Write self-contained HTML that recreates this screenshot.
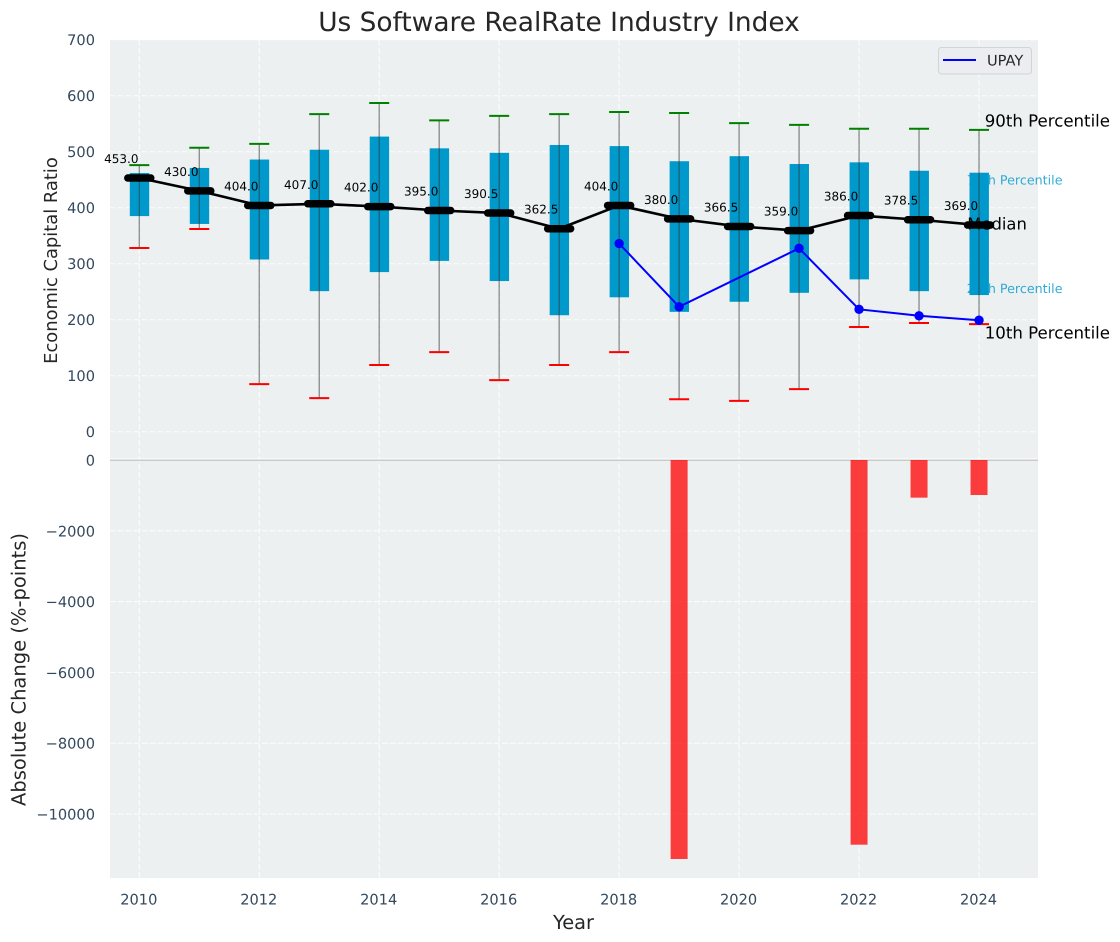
<!DOCTYPE html>
<html lang="en">
<head>
<meta charset="utf-8">
<title>Us Software RealRate Industry Index</title>
<style>
html,body{margin:0;padding:0;background:#fff;}
svg{display:block;font-family:"DejaVu Sans","Liberation Sans",sans-serif;text-rendering:geometricPrecision;}
</style>
</head>
<body>
<svg id="chart" xmlns="http://www.w3.org/2000/svg" width="1120" height="942" viewBox="0 0 1120 942">
  <rect x="0" y="0" width="1120" height="942" fill="#ffffff"/>
  <rect x="110" y="40" width="928" height="420" fill="#ecf0f1"/>
  <rect x="110" y="460" width="928" height="418" fill="#ecf0f1"/>
  <g id="grid"></g>
  <g id="bars"></g>
  <g id="boxes"></g>
  <g id="notes"></g>
  <g id="whiskers"></g>
  <g id="medians"></g>
  <g id="upay"></g>
  <g id="ticks"></g>
  <text x="559" y="31" text-anchor="middle" font-size="26.4" fill="#262626">Us Software RealRate Industry Index</text>
  <text transform="translate(57,260.5) rotate(-90)" text-anchor="middle" font-size="17.9" fill="#262626">Economic Capital Ratio</text>
  <text transform="translate(25.5,669.5) rotate(-90)" text-anchor="middle" font-size="19.5" fill="#262626">Absolute Change (%-points)</text>
  <text x="573.5" y="929" text-anchor="middle" font-size="19.4" fill="#262626">Year</text>
  <g>
    <rect x="938.5" y="47.5" width="93" height="26.5" rx="3" fill="#ebedf1" stroke="#d2d4d6" stroke-width="1"/>
    <line x1="943" y1="60" x2="976" y2="60" stroke="#0000ff" stroke-width="2"/>
    <text x="987" y="65.5" font-size="14.6" fill="#262626">UPAY</text>
  </g>
</svg>
<script>
const years = [2010,2011,2012,2013,2014,2015,2016,2017,2018,2019,2020,2021,2022,2023,2024];
const p90 = [476,507,514,567,587,556,564,567,571,569,551,548,541,541,539];
const p75 = [462,471,486,503.5,527,506,498,512,510,483,492,478,481,466,462.5];
const p25 = [385,371,307.5,251,285,305,269,208,240,214,232,248,272,251,244];
const p10 = [328,362,85,60,119,142,92,119,142,58,55,76,187,194,192];
const medianValues = [453,430,404,407,402,395,390.5,362.5,404,380,366.5,359,386,378.5,369];
const upayYears = [2018,2019,2021,2022,2023,2024];
const upayValues = [336,223,327.5,218.5,207,199];
const changeYears = [2019,2022,2023,2024];
const changeValues = [-11271,-10867,-1064,-989];
const topTicks = [0,100,200,300,400,500,600,700];
const bottomTicks = [0,-2000,-4000,-6000,-8000,-10000];
const xTicks = [2010,2012,2014,2016,2018,2020,2022,2024];

const NS = 'http://www.w3.org/2000/svg';
const xScale = function (year) { return 139.3 + (year - 2010) * 59.98; };
const yTop = function (v) { return 431.7 - v * 0.56; };
const yBottom = function (v) { return 460 - v * 0.0354; };

function make(tag, parent, attrs, text) {
  const el = document.createElementNS(NS, tag);
  Object.keys(attrs).forEach(function (k) { el.setAttribute(k, attrs[k]); });
  if (text !== undefined) el.textContent = text;
  parent.appendChild(el);
  return el;
}
const gGrid = document.getElementById('grid');
const gBars = document.getElementById('bars');
const gBoxes = document.getElementById('boxes');
const gNotes = document.getElementById('notes');
const gWhiskers = document.getElementById('whiskers');
const gMedians = document.getElementById('medians');
const gUpay = document.getElementById('upay');
const gTicks = document.getElementById('ticks');
const gridStyle = {stroke:'#ffffff','stroke-width':1,'stroke-dasharray':'5.5 2.5','stroke-opacity':0.9};

xTicks.forEach(function (yr) {
  const vt = make('line', gGrid, Object.assign({x1:xScale(yr),x2:xScale(yr),y1:40,y2:878}, gridStyle));
  
  
  const lbl = make('text', gTicks, {x:xScale(yr)-0.5,y:904.5,'text-anchor':'middle','font-size':14.6,fill:'#34495e'}, String(yr));
  
  
});
topTicks.forEach(function (v) {
  const hl = make('line', gGrid, Object.assign({x1:110,x2:1038,y1:yTop(v),y2:yTop(v)}, gridStyle));
  
  
  const lbl = make('text', gTicks, {x:95,y:yTop(v)+5.5,'text-anchor':'end','font-size':14.6,fill:'#34495e'}, String(v));
  
  
});
bottomTicks.forEach(function (v) {
  if (v !== 0) {
    const hl = make('line', gGrid, Object.assign({x1:110,x2:1038,y1:yBottom(v),y2:yBottom(v)}, gridStyle));
    
    
  }
  const lbl = make('text', gTicks, {x:95,y:yBottom(v)+5.5,'text-anchor':'end','font-size':14.6,fill:'#34495e'}, String(v).replace('-', '\u2212'));
  
  
});
const sep = make('line', gGrid, {x1:110,x2:1038,y1:459,y2:459,stroke:'#ffffff','stroke-width':1});


const zero = make('line', gGrid, {x1:110,x2:1038,y1:460.2,y2:460.2,stroke:'#bdbdbd','stroke-width':1.2});



changeYears.forEach(function (yr, i) {
  const y0 = yBottom(0), y1 = yBottom(changeValues[i]);
  const bar = make('rect', gBars, {x:xScale(yr)-8.5,y:Math.min(y0,y1),width:17,height:Math.abs(y1-y0),fill:'#ff0000','fill-opacity':0.75});
  
  
});

years.forEach(function (yr, i) {
  const cx = xScale(yr);
  const box = make('rect', gBoxes, {x:cx-9.5,y:yTop(p75[i]),width:19.4,height:yTop(p25[i])-yTop(p75[i]),fill:'#0099cc'});
  
  
  const w = make('line', gWhiskers, {x1:cx,x2:cx,y1:yTop(p90[i]),y2:yTop(p10[i]),stroke:'#333333','stroke-opacity':0.55,'stroke-width':1.3});
  
  
  const capHigh = make('line', gWhiskers, {x1:cx-10,x2:cx+10,y1:yTop(p90[i]),y2:yTop(p90[i]),stroke:'#008000','stroke-width':2});
  
  
  const capLow = make('line', gWhiskers, {x1:cx-10,x2:cx+10,y1:yTop(p10[i]),y2:yTop(p10[i]),stroke:'#ff0000','stroke-width':2});
  
  
});

const last = years.length - 1;
const lastX = xScale(years[last]);
const noteStyle = {'dominant-baseline':'central'};
const n90 = make('text', gNotes, Object.assign({x:lastX+5.7,y:yTop(p90[last])-9,'font-size':16.6,fill:'#000000'}, noteStyle), '90th Percentile');


const n75 = make('text', gNotes, Object.assign({x:lastX-12.3,y:yTop(p75[last])+7.5,'font-size':12.7,fill:'#0099cc','fill-opacity':0.8}, noteStyle), '75th Percentile');


const nMed = make('text', gNotes, Object.assign({x:lastX-11.8,y:yTop(medianValues[last])-1,'font-size':16.4,fill:'#000000'}, noteStyle), 'Median');


const n25 = make('text', gNotes, Object.assign({x:lastX-12.3,y:yTop(p25[last])-6.5,'font-size':12.7,fill:'#0099cc','fill-opacity':0.8}, noteStyle), '25th Percentile');


const n10 = make('text', gNotes, Object.assign({x:lastX+5.7,y:yTop(p10[last])+9,'font-size':16.6,fill:'#000000'}, noteStyle), '10th Percentile');



const medianPoints = years.map(function (yr, i) { return xScale(yr) + ',' + yTop(medianValues[i]); }).join(' ');
const medLine = make('polyline', gMedians, {points:medianPoints,fill:'none',stroke:'#000000','stroke-width':2.6});


years.forEach(function (yr, i) {
  const cx = xScale(yr), cy = yTop(medianValues[i]);
  const tick = make('line', gMedians, {x1:cx-11.5,x2:cx+11.5,y1:cy,y2:cy,stroke:'#000000','stroke-width':7.5,'stroke-linecap':'round'});
  
  
  const lbl = make('text', gMedians, {x:cx-18,y:cy-15,'text-anchor':'middle','font-size':12,fill:'#000000'}, medianValues[i].toFixed(1));
  
  
});

const upayPoints = upayYears.map(function (yr, i) { return xScale(yr) + ',' + yTop(upayValues[i]); }).join(' ');
const upLine = make('polyline', gUpay, {points:upayPoints,fill:'none',stroke:'#0000ff','stroke-width':2});


upayYears.forEach(function (yr, i) {
  const dot = make('circle', gUpay, {cx:xScale(yr),cy:yTop(upayValues[i]),r:4.7,fill:'#0000ff'});
  
  
});
</script>
</body>
</html>
